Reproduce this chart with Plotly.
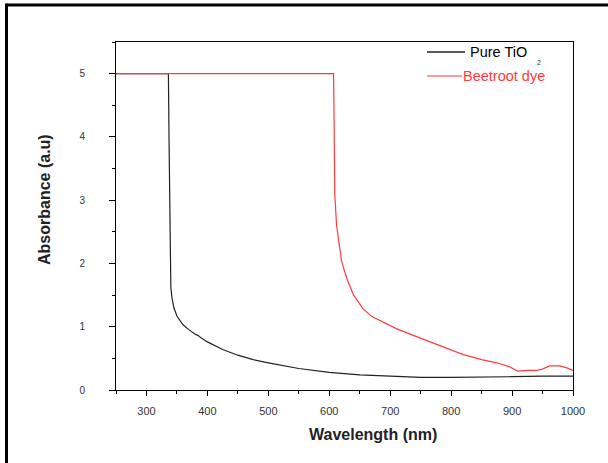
import plotly.graph_objects as go

tio2_x = [250, 336, 337, 338, 339, 340, 342, 345, 350, 355, 360, 370, 380, 385, 390, 400, 425, 450, 475, 500, 550, 600, 650, 700, 750, 800, 850, 900, 950, 1000]
tio2_y = [5, 5, 4.0, 2.8, 2.0, 1.62, 1.45, 1.3, 1.17, 1.09, 1.03, 0.95, 0.88, 0.86, 0.82, 0.76, 0.64, 0.55, 0.48, 0.43, 0.34, 0.28, 0.24, 0.22, 0.2, 0.2, 0.2, 0.21, 0.22, 0.22]

dye_x = [250, 607, 608, 609, 612, 616, 620, 625, 630, 640, 655, 670, 690, 710, 740, 765, 790, 820, 850, 875, 895, 909, 925, 940, 950, 961, 978, 990, 1000]
dye_y = [5, 5, 4.2, 3.1, 2.6, 2.3, 2.05, 1.88, 1.73, 1.5, 1.29, 1.16, 1.06, 0.97, 0.855, 0.76, 0.665, 0.56, 0.48, 0.43, 0.37, 0.30, 0.31, 0.31, 0.33, 0.38, 0.38, 0.35, 0.31]

x_ticks = [300, 400, 500, 600, 700, 800, 900, 1000]
y_ticks = [0, 1, 2, 3, 4, 5]

FONT = "Arial, Liberation Sans, sans-serif"
RED = "#ff3b3b"
BLK = "#222222"

fig = go.Figure()
fig.add_trace(go.Scatter(x=tio2_x, y=tio2_y, mode="lines", line=dict(color=BLK, width=1.2), name="Pure TiO2"))
fig.add_trace(go.Scatter(x=dye_x, y=dye_y, mode="lines", line=dict(color=RED, width=1.2), name="Beetroot dye"))

W, H = 608, 463
L, R, T, B = 116, 35, 42, 73
pw, ph = W - L - R, H - T - B

def px(x):
    return (x - L) / pw

def py(y):
    return (H - B - y) / ph

shapes = [
    # outer frame (top and left)
    dict(type="line", xref="paper", yref="paper", x0=px(6.5), x1=px(612), y0=py(5), y1=py(5), line=dict(color="black", width=3)),
    dict(type="line", xref="paper", yref="paper", x0=px(6.5), x1=px(6.5), y0=py(3.5), y1=py(470), line=dict(color="black", width=3)),
    # legend samples
    dict(type="line", xref="paper", yref="paper", x0=px(427), x1=px(465), y0=py(52), y1=py(52), line=dict(color=BLK, width=1.5)),
    dict(type="line", xref="paper", yref="paper", x0=px(427), x1=px(462), y0=py(76), y1=py(76), line=dict(color=RED, width=1.2)),
]

annotations = [
    dict(text="Pure TiO", xref="paper", yref="paper", x=px(468), y=py(52), xanchor="left", yanchor="middle", showarrow=False, font=dict(family=FONT, size=14.5, color="black")),
    dict(text="2", xref="paper", yref="paper", x=px(535), y=py(62), xanchor="left", yanchor="middle", showarrow=False, font=dict(family=FONT, size=7, color="#333")),
    dict(text="Beetroot dye", xref="paper", yref="paper", x=px(461), y=py(76), xanchor="left", yanchor="middle", showarrow=False, font=dict(family=FONT, size=14.5, color=RED)),
    dict(text="<b>Wavelength (nm)</b>", xref="paper", yref="paper", x=px(373), y=py(434), xanchor="center", yanchor="middle", showarrow=False, font=dict(family=FONT, size=16, color="#222")),
    dict(text="<b>Absorbance (a.u)</b>", xref="paper", yref="paper", x=px(45), y=py(200), xanchor="center", yanchor="middle", textangle=-90, showarrow=False, font=dict(family=FONT, size=16, color="#222")),
]

fig.update_layout(
    width=W, height=H,
    margin=dict(l=L, r=R, t=T, b=B),
    paper_bgcolor="white", plot_bgcolor="white",
    showlegend=False,
    font=dict(family=FONT, color="#333"),
    shapes=shapes,
    annotations=annotations,
    xaxis=dict(
        range=[250, 1000], tickvals=x_ticks, ticktext=[str(v) for v in x_ticks],
        showgrid=False, zeroline=False, showline=True, linecolor="black", linewidth=1, mirror=True,
        ticks="outside", ticklen=5, tickcolor="black", ticklabelstandoff=6,
        minor=dict(ticks="outside", ticklen=3, tick0=250, dtick=50, tickcolor="black", showgrid=False),
        tickfont=dict(family=FONT, size=11, color="#333"),
    ),
    yaxis=dict(
        range=[0, 5.5], tickvals=y_ticks, ticktext=[str(v) for v in y_ticks],
        showgrid=False, zeroline=False, showline=True, linecolor="black", linewidth=1, mirror=True,
        ticks="outside", ticklen=6, tickcolor="black", ticklabelstandoff=22,
        minor=dict(ticks="outside", ticklen=3, tick0=0, dtick=0.5, tickcolor="black", showgrid=False),
        tickfont=dict(family=FONT, size=10, color="#333"),
    ),
)

fig.write_html("out.html", config={"displayModeBar": False},
               post_script="document.body.style.margin='0';document.body.style.padding='0';")
